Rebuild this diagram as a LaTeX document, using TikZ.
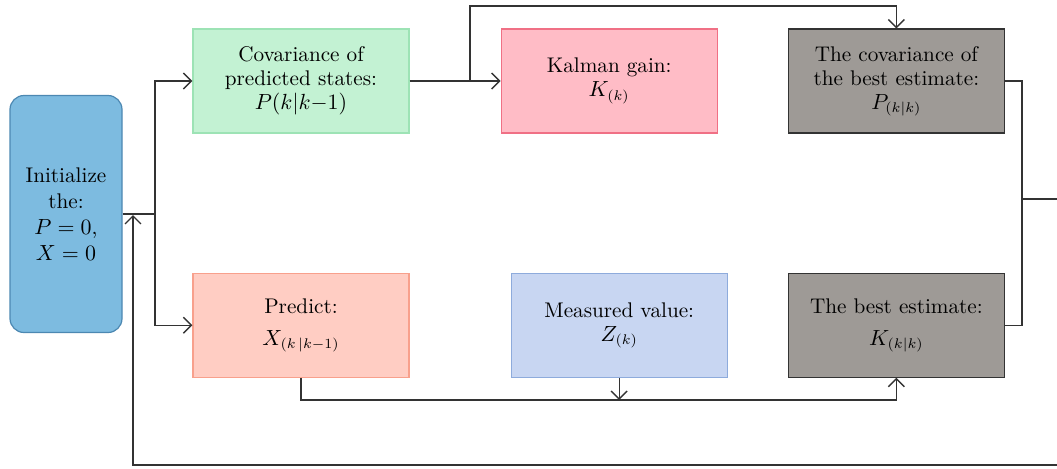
\documentclass[tikz,border=0pt]{standalone}
\usepackage{amsmath}
\usetikzlibrary{positioning,arrows.meta}

\definecolor{initfill}{HTML}{7DBBE0}
\definecolor{initline}{HTML}{4C88B2}
\definecolor{greenfill}{HTML}{C3F2D3}
\definecolor{greenline}{HTML}{9DE3B5}
\definecolor{pinkfill}{HTML}{FFBCC6}
\definecolor{pinkline}{HTML}{F07085}
\definecolor{grayfill}{HTML}{9E9A96}
\definecolor{grayline}{HTML}{333333}
\definecolor{salmonfill}{HTML}{FFCDC3}
\definecolor{salmonline}{HTML}{F8A08C}
\definecolor{bluefill}{HTML}{C8D6F2}
\definecolor{blueline}{HTML}{8EABDC}
\definecolor{linkgray}{HTML}{333333}

\begin{document}
\begin{tikzpicture}[x=0.5pt, y=-0.5pt, node distance=45.5pt,
    >={Straight Barb[length=4pt,width=8pt]},
    box/.style={draw, rectangle, minimum width=108pt, minimum height=52pt, align=center, inner sep=2pt, line width=0.6pt, font=\fontsize{10.6}{12}\selectfont},
    link/.style={draw=linkgray, line width=0.7pt}]
    \useasboundingbox (0,0) rectangle (1057,468);

    % Nodes
    \node (init) [box, rounded corners=7pt, minimum width=56pt, minimum height=118.5pt, fill=initfill, draw=initline] at (66,214) {Initialize\\[1pt]the:\\[1pt]$P = 0$,\\[1pt]$X = 0$};
    \node (covpred) [box, fill=greenfill, draw=greenline] at (301,81) {Covariance of\\predicted states:\\$P(k|k{-}1)$};
    \node (gain) [box, right=45.5pt of covpred, fill=pinkfill, draw=pinkline] {Kalman gain:\\$K_{(k)}$};
    \node (covbest) [box, right=35pt of gain, fill=grayfill, draw=grayline] {The covariance of\\the best estimate:\\$P_{(k|k)}$};
    \node (predict) [box, below=69.5pt of covpred, fill=salmonfill, draw=salmonline] {Predict:\\[4pt]$X_{(k\,|k{-}1)}$};
    \node (measured) [box, right=50.5pt of predict, fill=bluefill, draw=blueline] {Measured value:\\$Z_{(k)}$};
    \node (best) [box, below=69.5pt of covbest, fill=grayfill, draw=grayline] {The best estimate:\\[4pt]$K_{(k|k)}$};

    % Junctions
    \coordinate (split) at (155,214);
    \coordinate (tap) at (470,81);
    \coordinate (merge) at (1022,199);
    \coordinate (out) at (1057,199);
    \coordinate (meet) at (measured.south |- 0,400);
    \coordinate (back) at (1057,465);
    \coordinate (reentry) at (133,215);

    % Arrows
    \draw[link, ->] (init.east) -- (split) |- (covpred.west);
    \draw[link, ->] (split) |- (predict.west);
    \draw[link, ->] (covpred) -- (gain);
    \draw[link, ->] (tap) -- ++(0,-75) -| (covbest.north);
    \draw[link] (covbest.east) -| (merge);
    \draw[link] (best.east) -| (merge);
    \draw[link] (merge) -- (out);
    \draw[link, ->] (predict.south) |- (meet) -| (best.south);
    \draw[link, ->] (measured.south) -- (meet);
    \draw[link, ->] (back) -| (reentry);
\end{tikzpicture}
\end{document}
